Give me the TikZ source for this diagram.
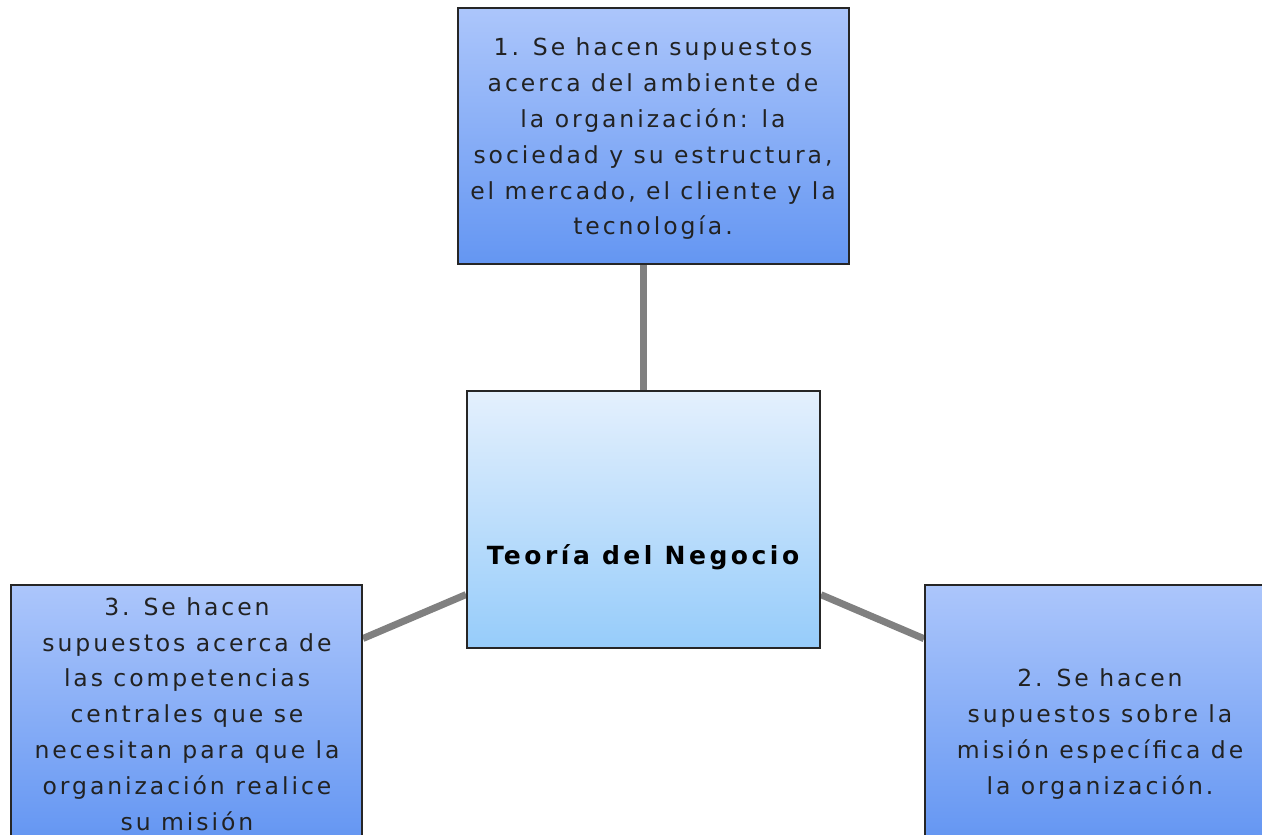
\documentclass[tikz,border=0pt]{standalone}
\usepackage{fontspec}
\setmainfont{DejaVu Sans}
\definecolor{boxtop}{RGB}{172,198,251}
\definecolor{boxbottom}{RGB}{100,150,242}
\definecolor{coretop}{RGB}{228,240,253}
\definecolor{corebottom}{RGB}{150,204,250}
\definecolor{linkgray}{RGB}{128,128,128}
\definecolor{textgray}{RGB}{34,34,34}
\usetikzlibrary{positioning}

\begin{document}
\begin{tikzpicture}[x=1pt, y=-1pt,
    idea/.style={draw=black!85, line width=2pt, rectangle, inner sep=0pt,
      top color=boxtop, bottom color=boxbottom},
    corebox/.style={draw=black!85, line width=2pt, rectangle, inner sep=0pt,
      minimum width=353pt, minimum height=257pt,
      top color=coretop, bottom color=corebottom},
    ideatext/.style={align=center, text=textgray, inner sep=0pt,
      font=\fontsize{23.5}{35.8}\selectfont\addfontfeatures{LetterSpace=12.5}},
    link/.style={linkgray, line width=7pt}]
  \path[use as bounding box] (0,0) rectangle (1262,835);
  \clip (0,0) rectangle (1262,835);

  % the four boxes
  \node[idea, minimum width=391pt, minimum height=256pt] (ambiente) at (653.5,136) {};
  \node[corebox] (core) at (643.5,519.5) {};
  \node[idea, minimum width=351pt, minimum height=256pt] (competencias) at (186.5,713) {};
  \node[idea, minimum width=350pt, minimum height=256pt] (mision) at (1100,713) {};

  % connectors to the centre
  \draw[link] (core.north) -- (core.north |- ambiente.south);
  \draw[link] (core) -- (competencias);
  \draw[link] (core) -- (mision);
  \node[corebox] at (core) {};
  \node[idea, minimum width=391pt, minimum height=256pt] at (ambiente) {};
  \node[idea, minimum width=351pt, minimum height=256pt] at (competencias) {};
  \node[idea, minimum width=350pt, minimum height=256pt] at (mision) {};

  % texts
  \node[ideatext] (ambienteText) at (653,139) {1. Se hacen supuestos\\acerca del ambiente de\\la organización: la\\sociedad y su estructura,\\el mercado, el cliente y la\\tecnología.};
  \node[font=\fontsize{25}{28}\selectfont\bfseries\addfontfeatures{LetterSpace=14}, inner sep=0pt] (coreText) at (643,557) {Teoría del Negocio};
  \node[ideatext] (competenciasText) at (187,714) {3. Se hacen\\supuestos acerca de\\las competencias\\centrales que se\\necesitan para que la\\organización realice\\su misión};
  \node[ideatext] (misionText) at (1100,734) {2. Se hacen\\supuestos sobre la\\misión específica de\\la organización.};
\end{tikzpicture}
\end{document}
